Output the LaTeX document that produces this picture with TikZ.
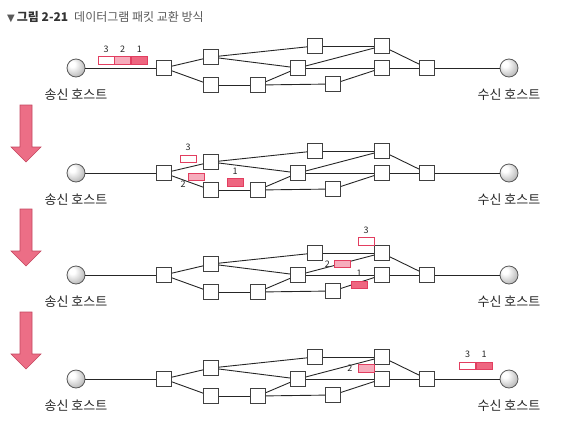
\documentclass[tikz,border=0pt]{standalone}
\usepackage{fontspec}
\setmainfont{Noto Sans CJK KR}
\newfontfamily\symfont{DejaVu Sans}
\usepackage{tikz}
\usetikzlibrary{positioning}
\definecolor{pktdark}{RGB}{238,102,128}
\definecolor{pktlight}{RGB}{246,172,188}
\definecolor{pktline}{RGB}{226,62,96}
\definecolor{arrowfill}{RGB}{236,110,134}
\definecolor{arrowline}{RGB}{196,72,96}
\definecolor{titlegray}{RGB}{90,90,90}
\pgfdeclareradialshading{hostshade}{\pgfpoint{-12bp}{12bp}}{%
    color(0bp)=(white); color(8bp)=(white); color(30bp)=(black!25); color(52bp)=(black!45); color(70bp)=(black!60)}
\tikzset{
    router/.style={rectangle, draw=black!75, fill=white, line width=0.9pt, minimum width=15pt, minimum height=15pt, inner sep=0pt},
    hostball/.style={circle, draw=black!65, line width=0.8pt, shading=hostshade, minimum size=18pt, inner sep=0pt},
    hostlabel/.style={font=\fontsize{13}{15}\selectfont, text=black!85, inner sep=0pt},
    link/.style={black!85, line width=0.9pt},
    packet/.style={rectangle, draw=pktline, line width=0.7pt, minimum width=16pt, minimum height=7.5pt, inner sep=0pt},
    pktnum/.style={font=\fontsize{9}{10}\selectfont, text=black!85, inner sep=0pt},
    bigarrow/.style={draw=arrowline, fill=arrowfill, line width=0.6pt, line join=miter},
}

\begin{document}
\begin{tikzpicture}[
    x=1pt, y=-1pt,
    pics/dnarrow/.style={code={
        \draw[bigarrow] (-6,0) -- (6,0) -- (6,42) -- (15,42) -- (0,57) -- (-15,42) -- (-6,42) -- cycle;
    }}
]
\useasboundingbox (0,0) rectangle (575,426);

\node[anchor=west, inner sep=0pt, font=\fontsize{12}{14}\selectfont, text=titlegray] (title) at (7,17)
    {{\symfont\fontsize{10}{12}\selectfont ▼}\,\textbf{\color{black!80}그림 2-21}\enspace 데이터그램 패킷 교환 방식};

% the same network, four times
\foreach \r/\y in {1/68,2/173,3/275,4/379} {
    \node[hostball] (s\r) at (76,\y) {};
    \node[hostball] (d\r) at (509,\y) {};
    \node[hostlabel, below=11pt of s\r] (s\r-lbl) {송신 호스트};
    \node[hostlabel, below=11pt of d\r] (d\r-lbl) {수신 호스트};

    \node[router] (a\r) at (164,\y) {};
    \node[router] (b\r) at (211,{\y-11}) {};
    \node[router] (c\r) at (211,{\y+17}) {};
    \node[router] (e\r) at (258,{\y+17}) {};
    \node[router] (m\r) at (298,\y) {};
    \node[router] (f\r) at (315,{\y-22}) {};
    \node[router] (g\r) at (333,{\y+16}) {};
    \node[router] (h\r) at (382,{\y-22}) {};
    \node[router] (i\r) at (382,\y) {};
    \node[router] (j\r) at (427,\y) {};

    \draw[link] (s\r) -- (a\r);
    \draw[link] (a\r) -- (b\r);
    \draw[link] (a\r) -- (c\r);
    \draw[link] (b\r) -- (f\r);
    \draw[link] (b\r) -- (m\r);
    \draw[link] (c\r) -- (e\r);
    \draw[link] (e\r) -- (m\r);
    \draw[link] (e\r) -- (g\r);
    \draw[link] (f\r) -- (h\r);
    \draw[link] (m\r) -- (h\r);
    \draw[link] (m\r) -- (i\r);
    \draw[link] (g\r) -- (i\r);
    \draw[link] (h\r) -- (j\r);
    \draw[link] (i\r) -- (j\r);
    \draw[link] (j\r) -- (d\r);
}

% step arrows
\pic at (26,105) {dnarrow};
\pic at (26,209) {dnarrow};
\pic at (26,312) {dnarrow};

% step 1: all three packets leave the sender
\node[packet, fill=white] (p1-3) at (106,60.5) {};
\node[packet, fill=pktlight, right=0pt of p1-3] (p1-2) {};
\node[packet, fill=pktdark, right=0pt of p1-2] (p1-1) {};
\node[pktnum, above=4pt of p1-3] {3};
\node[pktnum, above=4pt of p1-2] {2};
\node[pktnum, above=4pt of p1-1] {1};

% step 2
\node[packet, fill=white] (p2-3) at (188,159) {};
\node[packet, fill=pktlight] (p2-2) at (196,177) {};
\node[packet, fill=pktdark] (p2-1) at (235,182.5) {};
\node[pktnum, above=4pt of p2-3] {3};
\node[pktnum] at (183,184) {2};
\node[pktnum, above=4pt of p2-1] {1};

% step 3
\node[packet, fill=white] (p3-3) at (366,241.5) {};
\node[packet, fill=pktlight] (p3-2) at (342.5,264) {};
\node[packet, fill=pktdark] (p3-1) at (359,285) {};
\node[pktnum, above=4pt of p3-3] {3};
\node[pktnum, left=4pt of p3-2] {2};
\node[pktnum, above=4pt of p3-1] {1};

% step 4: 3 and 1 arrive, 2 still on the way
\node[packet, fill=pktlight] (p4-2) at (366,368.5) {};
\node[pktnum, left=5pt of p4-2] {2};
\node[packet, fill=white] (p4-3) at (467.5,366) {};
\node[packet, fill=pktdark, right=0pt of p4-3] (p4-1) {};
\node[pktnum, above=4pt of p4-3] {3};
\node[pktnum, above=4pt of p4-1] {1};

\end{tikzpicture}
\end{document}
